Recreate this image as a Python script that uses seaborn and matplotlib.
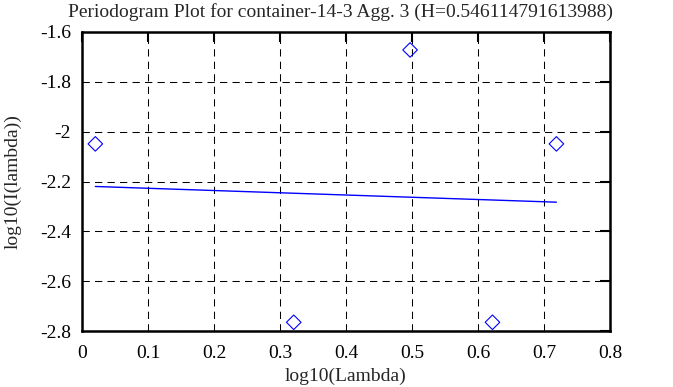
import matplotlib
matplotlib.use("Agg")
import matplotlib.pyplot as plt
import pandas as pd
import seaborn as sns

# periodogram points (log10 lambda vs log10 I(lambda))
log_lambda = [0.0202, 0.3208, 0.4971, 0.6219, 0.7188]
log_power = [-2.049, -2.765, -1.672, -2.765, -2.049]

# least squares fit line end points
fit_x = [0.0202, 0.7188]
fit_y = [-2.220, -2.283]

title = "Periodogram Plot for container-14-3 Agg. 3 (H=0.546114791613988)"

sns.set_style("white")
plt.rcParams["font.family"] = ["Liberation Serif", "DejaVu Serif"]
plt.rcParams["font.size"] = 14

points = pd.DataFrame({"x": log_lambda, "y": log_power})
fit = pd.DataFrame({"x": fit_x, "y": fit_y})

fig = plt.figure(figsize=(6.73, 3.87), dpi=100)
ax = fig.add_axes([82 / 673, 1 - 331 / 387, 528 / 673, 299 / 387])

sns.lineplot(data=fit, x="x", y="y", color="#0000ff", linewidth=1.0, ax=ax)
sns.scatterplot(data=points, x="x", y="y", marker="D", s=55, facecolor="none",
                edgecolor="#0000ff", linewidth=0.8, ax=ax, zorder=3)

ax.set_xlim(0, 0.8)
ax.set_ylim(-2.8, -1.6)
ax.set_xticks([0, 0.1, 0.2, 0.3, 0.4, 0.5, 0.6, 0.7, 0.8])
ax.set_xticklabels(["0", "0.1", "0.2", "0.3", "0.4", "0.5", "0.6", "0.7", "0.8"])
ax.set_yticks([-2.8, -2.6, -2.4, -2.2, -2.0, -1.8, -1.6])
ax.set_yticklabels(["-2.8", "-2.6", "-2.4", "-2.2", "-2", "-1.8", "-1.6"])
ax.grid(True, color="black", linestyle=(0, (7, 5)), linewidth=0.75)
ax.tick_params(direction="in", length=7, width=1.5, top=True, right=True,
               labelsize=14, colors="black")
ax.tick_params(axis="x", pad=10)
ax.tick_params(axis="y", pad=8)
for sp in ax.spines.values():
    sp.set_color("black")
    sp.set_linewidth(1.8)

ax.set_xlabel("log10(Lambda)", fontsize=14, labelpad=4)
ax.set_ylabel("log10(I(lambda))", fontsize=14, labelpad=13)
ax.set_title(title, fontsize=14, pad=11, x=0.489)

fig.savefig("out.png", dpi=100)
